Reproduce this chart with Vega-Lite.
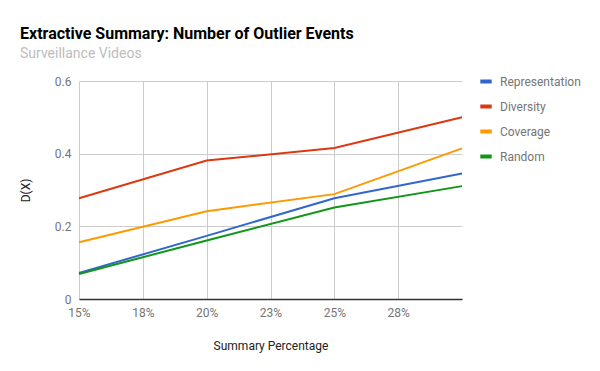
{
  "$schema": "https://vega.github.io/schema/vega-lite/v6.json",
  "width": 383,
  "height": 218,
  "autosize": "none",
  "padding": {"left": 79, "top": 81, "right": 138, "bottom": 72},
  "background": "white",
  "title": {
    "text": "Extractive Summary: Number of Outlier Events",
    "subtitle": "Surveillance Videos",
    "anchor": "start",
    "frame": "group",
    "dx": -59,
    "offset": 13,
    "font": "Roboto",
    "fontSize": 16,
    "fontWeight": "bold",
    "color": "#000000",
    "subtitleFont": "Roboto",
    "subtitleFontSize": 14,
    "subtitleColor": "#bdbdbd",
    "subtitlePadding": 5
  },
  "config": {
    "view": {"stroke": null},
    "font": "Roboto"
  },
  "data": {
    "values": [
      {"pct": 15, "series": "Representation", "dx": 0.0717},
      {"pct": 20, "series": "Representation", "dx": 0.1738},
      {"pct": 25, "series": "Representation", "dx": 0.2775},
      {"pct": 30, "series": "Representation", "dx": 0.3457},
      {"pct": 15, "series": "Diversity", "dx": 0.2775},
      {"pct": 20, "series": "Diversity", "dx": 0.381},
      {"pct": 25, "series": "Diversity", "dx": 0.4155},
      {"pct": 30, "series": "Diversity", "dx": 0.5},
      {"pct": 15, "series": "Coverage", "dx": 0.156},
      {"pct": 20, "series": "Coverage", "dx": 0.2417},
      {"pct": 25, "series": "Coverage", "dx": 0.2886},
      {"pct": 30, "series": "Coverage", "dx": 0.4146},
      {"pct": 15, "series": "Random", "dx": 0.069},
      {"pct": 20, "series": "Random", "dx": 0.161},
      {"pct": 25, "series": "Random", "dx": 0.2519},
      {"pct": 30, "series": "Random", "dx": 0.3107}
    ]
  },
  "mark": {"type": "line", "strokeWidth": 2, "interpolate": "linear"},
  "encoding": {
    "x": {
      "field": "pct",
      "type": "quantitative",
      "scale": {"domain": [15, 30], "nice": false, "zero": false},
      "axis": {
        "title": "Summary Percentage",
        "titleFont": "Roboto",
        "titleFontSize": 12,
        "titleFontWeight": "normal",
        "titleColor": "#222222",
        "titlePadding": 22,
        "values": [15, 17.5, 20, 22.5, 25, 27.5],
        "labelExpr": "format(round(datum.value), 'd') + '%'",
        "labelFont": "Roboto",
        "labelFontSize": 12,
        "labelColor": "#757575",
        "labelPadding": 8,
        "labelFlush": false,
        "ticks": false,
        "domain": true,
        "domainColor": "#333333",
        "domainWidth": 1.5,
        "grid": true,
        "gridColor": "#cccccc",
        "gridWidth": 1
      }
    },
    "y": {
      "field": "dx",
      "type": "quantitative",
      "scale": {"domain": [0, 0.6], "nice": false},
      "axis": {
        "title": "D(X)",
        "titleFont": "Roboto",
        "titleFontSize": 12,
        "titleFontWeight": "normal",
        "titleColor": "#222222",
        "titlePadding": 22,
        "values": [0, 0.2, 0.4, 0.6],
        "labelExpr": "datum.value === 0 ? '0' : format(datum.value, '.1f')",
        "labelFont": "Roboto",
        "labelFontSize": 12,
        "labelColor": "#757575",
        "labelPadding": 8,
        "labelFlush": false,
        "ticks": false,
        "domain": false,
        "grid": true,
        "gridColor": "#cccccc",
        "gridWidth": 1
      }
    },
    "color": {
      "field": "series",
      "type": "nominal",
      "scale": {
        "domain": ["Representation", "Diversity", "Coverage", "Random"],
        "range": ["#3366cc", "#dc3912", "#ff9900", "#109618"]
      },
      "legend": {
        "title": null,
        "orient": "none",
        "legendX": 399,
        "legendY": -7.5,
        "padding": 0,
        "symbolType": "stroke",
        "symbolStrokeWidth": 4,
        "symbolSize": 130,
        "labelFont": "Roboto",
        "labelFontSize": 12,
        "labelColor": "#757575",
        "labelOffset": 6,
        "rowPadding": 9
      }
    }
  }
}
